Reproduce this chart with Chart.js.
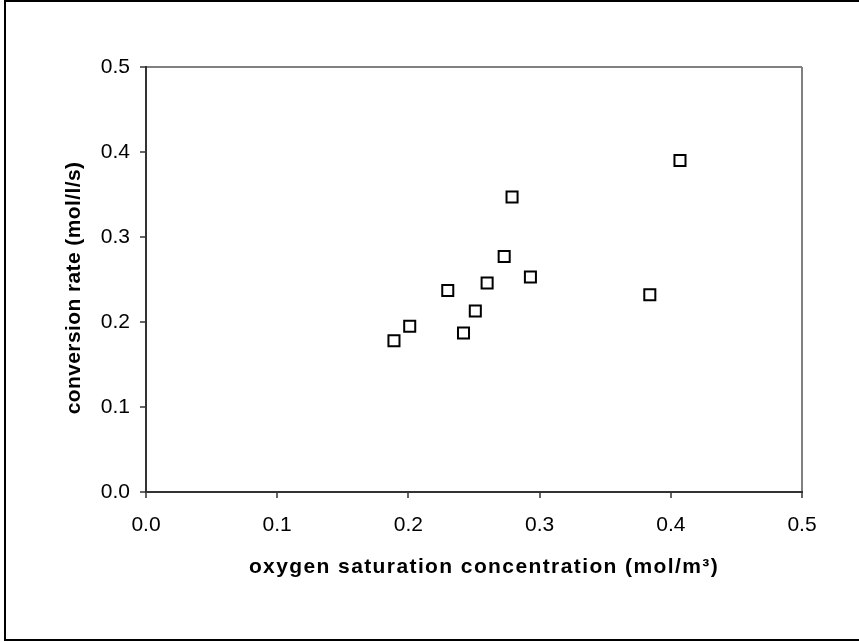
<!DOCTYPE html>
<html>
<head>
<meta charset="utf-8">
<script src="https://cdn.jsdelivr.net/npm/chart.js@4"></script>
<style>
  html, body { margin: 0; padding: 0; background: #fff; }
  canvas { display: block; }
</style>
</head>
<body>
<canvas id="chart" width="859" height="642"></canvas>
<script>
const oxygenSat = [0.279, 0.273, 0.293, 0.260, 0.230, 0.251, 0.201, 0.242, 0.189, 0.407, 0.384];
const convRate  = [0.347, 0.277, 0.253, 0.246, 0.237, 0.213, 0.195, 0.187, 0.178, 0.390, 0.232];
const xTitle = 'oxygen saturation concentration (mol/m³)';
const yTitle = 'conversion rate (mol/l/s)';

const FONT = '"Liberation Sans", Arial, sans-serif';

// Outer frame plus the two axis titles (Excel-like letter spacing)
const frameAndTitles = {
    id: 'frameAndTitles',
    beforeDraw(chart) {
        const ctx = chart.ctx;
        ctx.save();
        ctx.fillStyle = '#fff';
        ctx.fillRect(0, 0, chart.width, chart.height);
        ctx.strokeStyle = '#000';
        ctx.lineWidth = 2;
        ctx.strokeRect(5, 1, 870, 639);
        ctx.restore();
    },
    afterDraw(chart) {
        const ctx = chart.ctx;
        ctx.save();
        ctx.fillStyle = '#000';
        ctx.font = 'bold 21px ' + FONT;
        ctx.textAlign = 'center';
        ctx.textBaseline = 'alphabetic';
        ctx.letterSpacing = '1.4px';
        ctx.fillText(xTitle, 484, 573);
        ctx.translate(80, 288);
        ctx.rotate(-Math.PI / 2);
        ctx.letterSpacing = '0.4px';
        ctx.fillText(yTitle, 0, 0);
        ctx.restore();
    }
};

// only the 0.5 lines are drawn (plot area top / right edge)
const edgeOnly = (ctx) => ctx.tick && Math.abs(ctx.tick.value - 0.5) < 1e-9 ? '#808080' : 'rgba(0,0,0,0)';

function axis(fitFn) {
    return {
        type: 'linear',
        min: 0,
        max: 0.5,
        afterFit: fitFn,
        border: { display: true, color: '#333', width: 2 },
        grid: {
            color: edgeOnly,
            lineWidth: 2,
            drawTicks: true,
            tickLength: 6,
            tickColor: '#333',
            tickWidth: 1.5
        },
        ticks: {
            stepSize: 0.1,
            color: '#000',
            font: { family: FONT, size: 21 },
            callback: (v) => v.toFixed(1)
        }
    };
}

const xAxis = axis((scale) => { scale.height = 150; });
xAxis.ticks.padding = 15;
const yAxis = axis((scale) => { scale.width = 146; });
yAxis.ticks.padding = 10;

new Chart(document.getElementById('chart').getContext('2d'), {
    type: 'scatter',
    data: {
        datasets: [{
            label: 'conversion rate',
            data: oxygenSat.map((x, i) => ({ x: x, y: convRate[i] })),
            pointStyle: 'rect',
            pointRadius: 7.8,
            pointHoverRadius: 7.8,
            borderWidth: 2,
            borderColor: '#000',
            backgroundColor: '#fff',
            clip: false
        }]
    },
    options: {
        responsive: false,
        animation: false,
        events: [],
        layout: { padding: { left: 0, top: 67, right: 57, bottom: 0 } },
        scales: { x: xAxis, y: yAxis },
        plugins: {
            legend: { display: false },
            tooltip: { enabled: false }
        }
    },
    plugins: [frameAndTitles]
});
</script>
</body>
</html>
